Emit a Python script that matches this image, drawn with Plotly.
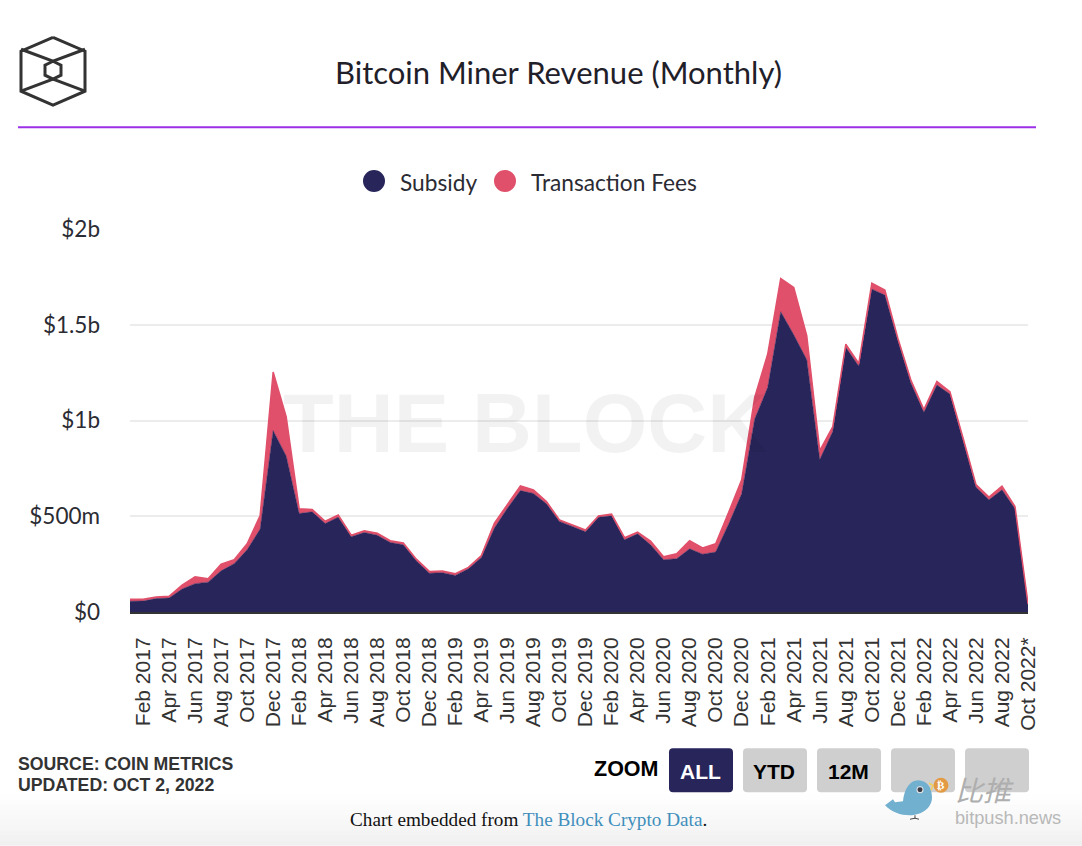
import plotly.graph_objects as go

month_names = ["Jan", "Feb", "Mar", "Apr", "May", "Jun", "Jul", "Aug", "Sep", "Oct", "Nov", "Dec"]
months = [f"{m} {y}" for y in range(2017, 2023) for m in month_names][:70]
months[-1] = "Oct 2022*"
tick_labels = months[1::2]

# $ millions
subsidy = [56, 57, 70, 73, 120, 148, 156, 215, 252, 325, 433, 947, 815, 514, 523, 462, 495, 393, 415, 401,
           363, 351, 268, 203, 205, 191, 226, 285, 438, 542, 634, 619, 565, 473, 447, 419, 495, 502, 377, 408,
           351, 273, 278, 330, 302, 313, 460, 617, 1008, 1173, 1568, 1448, 1317, 796, 942, 1382, 1283, 1686, 1655, 1416,
           1196, 1043, 1185, 1138, 895, 652, 586, 638, 539, 35]
fees = [10, 9, 8, 9, 21, 36, 18, 35, 21, 31, 71, 306, 205, 25, 12, 12, 12, 8, 9, 11,
        9, 9, 8, 9, 9, 9, 7, 10, 26, 23, 25, 19, 12, 8, 8, 9, 7, 9, 11, 9,
        19, 15, 26, 42, 33, 43, 61, 73, 113, 174, 173, 247, 126, 47, 26, 17, 15, 31, 26, 14,
        15, 14, 19, 12, 17, 14, 14, 19, 12, 8]

y_ticks = [0, 500, 1000, 1500, 2000]
y_labels = ["$0", "$500m", "$1b", "$1.5b", "$2b"]

NAVY = "#27255a"
PINK = "#e0506b"
TEXT = "#2b2b33"

W, H = 1082, 846
LEFT, RIGHT, TOP, BOTTOM = 130, 1028, 229, 612.5


# page pixels to paper coordinates
def X(px):
    return (px - LEFT) / (RIGHT - LEFT)


def Y(py):
    return (BOTTOM - py) / (BOTTOM - TOP)


def path(*parts):
    out = []
    for p in parts:
        if isinstance(p, str):
            out.append(p)
        else:
            out.append(f"{X(p[0]):.5f},{Y(p[1]):.5f}")
    return " ".join(out)


def rect(x0, y0, x1, y1, color, layer="above"):
    return dict(type="rect", xref="paper", yref="paper", x0=X(x0), x1=X(x1), y0=Y(y0), y1=Y(y1),
                fillcolor=color, line_width=0, layer=layer)


def circle(cx, cy, r, color):
    return dict(type="circle", xref="paper", yref="paper", x0=X(cx - r), x1=X(cx + r), y0=Y(cy - r), y1=Y(cy + r),
                fillcolor=color, line_width=0)


def line(points, color, width):
    parts = ["M", points[0]]
    for p in points[1:]:
        parts += ["L", p]
    return dict(type="path", xref="paper", yref="paper", path=path(*parts),
                line=dict(color=color, width=width))


def button(x0, x1, color):
    y0, y1, r = 749, 793, 4
    return dict(type="path", xref="paper", yref="paper", fillcolor=color, line_width=0,
                path=path("M", (x0 + r, y0), "L", (x1 - r, y0), "Q", (x1, y0), (x1, y0 + r),
                          "L", (x1, y1 - r), "Q", (x1, y1), (x1 - r, y1),
                          "L", (x0 + r, y1), "Q", (x0, y1), (x0, y1 - r),
                          "L", (x0, y0 + r), "Q", (x0, y0), (x0 + r, y0), "Z"))


def label(px, py, text, size, color=TEXT, family="Lato", anchor="left"):
    return dict(xref="paper", yref="paper", x=X(px), y=Y(py), text=text, showarrow=False,
                xanchor=anchor, yanchor="middle", font=dict(size=size, color=color, family=family))


fig = go.Figure()
fig.add_trace(go.Scatter(x=months, y=subsidy, name="Subsidy", mode="lines", stackgroup="one",
                         fillcolor=NAVY, line=dict(color=NAVY, width=0.5)))
fig.add_trace(go.Scatter(x=months, y=fees, name="Transaction Fees", mode="lines", stackgroup="one",
                         fillcolor=PINK, line=dict(color=PINK, width=1.5)))

shapes = []

# grey fade at the bottom of the page
fade = ["#ffffff", "#fefefe", "#fdfdfd", "#fbfbfb", "#fafafa", "#f9f9f9", "#f7f7f7", "#f6f6f6", "#f4f4f4", "#f2f2f2", "#f0f0f0"]
for i, c in enumerate(fade):
    shapes.append(rect(0, 790 + i * 5.1, W, 790 + (i + 1) * 5.1 + 0.5, c, layer="below"))

shapes.append(rect(18, 126, 1036, 128, "#9b30e6"))

# logo
hex_outer = [(53, 37), (85, 51), (85, 91), (53, 105), (21, 91), (21, 51), (53, 37)]
hex_inner = [(53, 61), (61, 65), (61, 75), (53, 79), (45, 75), (45, 65), (53, 61)]
shapes.append(line(hex_outer, "#333333", 3))
shapes.append(line(hex_inner, "#333333", 3))
shapes.append(line([(21, 49), (53, 61), (85, 49)], "#333333", 3))
shapes.append(line([(21, 91), (53, 79), (85, 91)], "#333333", 3))

# legend dots
shapes.append(circle(374, 181, 11, NAVY))
shapes.append(circle(505, 181, 11, PINK))

# zoom buttons
shapes.append(button(669, 733, NAVY))
for x0, x1 in [(743, 807), (817, 881), (891, 955), (965, 1029)]:
    shapes.append(button(x0, x1, "#cfcfcf"))

# bitpush bird
shapes.append(dict(type="path", xref="paper", yref="paper", fillcolor="#72b0d0", line_width=0,
                   path=path("M", (885, 806), "L", (893, 800), "L", (895, 803), "L", (903, 802),
                             "C", (904, 790), (910, 781), (918, 781),
                             "C", (928, 781), (932, 790), (932, 798),
                             "C", (932, 810), (920, 816), (910, 816),
                             "C", (900, 816), (892, 813), (885, 806), "Z")))
shapes.append(circle(920, 790.5, 3.5, "#e8e8e8"))
shapes.append(circle(920, 790.5, 2.5, "#3c3c48"))
shapes.append(line([(915, 816), (915, 819), (910, 820)], "#444444", 1))
shapes.append(line([(915, 819), (919, 820)], "#444444", 1))
shapes.append(line([(929, 784), (933, 786), (931, 791)], "#f2cf5a", 1.5))
shapes.append(circle(941, 786, 7.5, "#e39a45"))

annotations = [
    label(525, 424, "<b>THE BLOCK</b>", 83, color="rgba(0,0,0,0.05)", family="Liberation Sans", anchor="center"),
    label(398, 182, "Subsidy", 22.7),
    label(529, 182, "Transaction Fees", 22.7),
    label(16, 765, "<b>SOURCE: COIN METRICS</b>", 17.7, color="#333333", family="Liberation Sans"),
    label(16, 786, "<b>UPDATED: OCT 2, 2022</b>", 17.7, color="#333333", family="Liberation Sans"),
    label(592, 770, "<b>ZOOM</b>", 21.5, color="#000000", family="Liberation Sans"),
    label(700, 772, "<b>ALL</b>", 21, color="#ffffff", family="Liberation Sans", anchor="center"),
    label(774, 772, "<b>YTD</b>", 21, color="#000000", family="Liberation Sans", anchor="center"),
    label(848, 772, "<b>12M</b>", 21, color="#000000", family="Liberation Sans", anchor="center"),
    label(348, 820, 'Chart embedded from <span style="color:#3f8fbc">The Block Crypto Data</span>.', 19.2,
          color="#111111", family="Liberation Serif"),
    label(941, 786, "<b>₿</b>", 11, color="#ffffff", family="DejaVu Sans", anchor="center"),
    label(953, 790, "<i>比推</i>", 28, color="#aeaeae", family="Noto Sans CJK SC"),
    label(953, 819, "bitpush.news", 18.2, color="#b8b8b8", family="Liberation Sans"),
]

fig.update_layout(
    width=W,
    height=H,
    autosize=False,
    margin=dict(l=LEFT, r=W - RIGHT, t=TOP, b=H - BOTTOM, pad=0),
    paper_bgcolor="white",
    plot_bgcolor="white",
    showlegend=False,
    title=dict(text="Bitcoin Miner Revenue (Monthly)", x=558.5 / W, y=1 - 73 / H, xanchor="center", yanchor="middle",
               font=dict(size=31, color="#1f2029", family="Lato")),
    shapes=shapes,
    annotations=annotations,
)
fig.update_xaxes(type="category", range=[0, 69], tickmode="array", tickvals=tick_labels, ticktext=tick_labels,
                 tickangle=-90, ticks="", ticklabelstandoff=15, showgrid=False,
                 showline=True, linecolor="#333333", linewidth=2,
                 tickfont=dict(size=21, color="#333333", family="Liberation Sans"))
fig.update_yaxes(range=[0, 2000], tickmode="array", tickvals=y_ticks, ticktext=y_labels, ticks="",
                 ticklabelstandoff=29, gridcolor="#ececec", gridwidth=2, zeroline=False,
                 tickfont=dict(size=22.5, color=TEXT, family="Lato"))

fig.write_html("out.html", config={"displayModeBar": False}, post_script="document.body.style.margin = '0';")
